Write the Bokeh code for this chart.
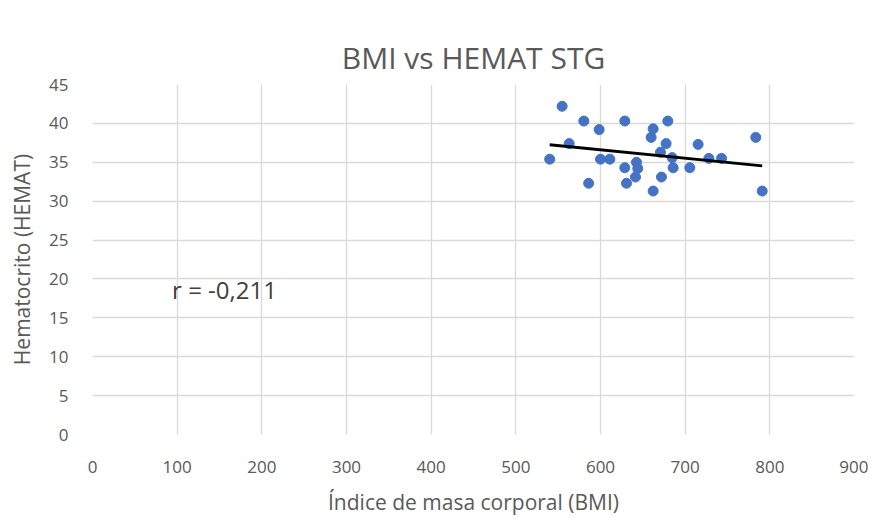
import numpy as np
from bokeh.plotting import figure
from bokeh.models import Range1d, Label, FixedTicker, ColumnDataSource, Title
from bokeh.embed import file_html
from bokeh.resources import INLINE

bmi = [554.7, 580.3, 598.4, 628.7, 679.5, 662.2, 659.8, 677.5, 563.0, 540.0,
       600.0, 611.0, 586.0, 628.7, 642.5, 644.0, 641.3, 630.7, 662.2, 672.0,
       670.8, 684.6, 685.8, 705.5, 715.3, 728.0, 743.0, 783.4, 791.0]
hemat = [42.2, 40.3, 39.2, 40.3, 40.3, 39.3, 38.2, 37.4, 37.4, 35.4,
         35.4, 35.4, 32.3, 34.3, 35.0, 34.2, 33.1, 32.3, 31.3, 33.1,
         36.3, 35.6, 34.3, 34.3, 37.3, 35.5, 35.5, 38.2, 31.3]
x_ticks = [0, 100, 200, 300, 400, 500, 600, 700, 800, 900]
y_ticks = [0, 5, 10, 15, 20, 25, 30, 35, 40, 45]
title_text = "BMI vs HEMAT STG"
r_text = "r = -0,211"

p = figure(width=868, height=518, output_backend="svg", toolbar_location=None,
           x_range=Range1d(0, 900), y_range=Range1d(0, 45),
           min_border_left=92, min_border_right=14, min_border_top=84, min_border_bottom=80)

p.title = Title(text=title_text, align="center", vertical_align="top",
                text_font="Open Sans", text_font_size="30px", text_font_style="normal",
                text_color="#595959", standoff=10)

p.outline_line_color = None
for ax in (p.xaxis, p.yaxis):
    ax.axis_line_color = None
    ax.major_tick_line_color = None
    ax.minor_tick_line_color = None
    ax.major_label_text_font = "Open Sans"
    ax.major_label_text_font_size = "17px"
    ax.major_label_text_color = "#595959"
    ax.axis_label_text_font = "Open Sans"
    ax.axis_label_text_font_size = "21px"
    ax.axis_label_text_font_style = "normal"
    ax.axis_label_text_color = "#595959"
p.xaxis.ticker = FixedTicker(ticks=x_ticks)
p.yaxis.ticker = FixedTicker(ticks=y_ticks)
p.xaxis.axis_label = "Índice de masa corporal (BMI)"
p.yaxis.axis_label = "Hematocrito (HEMAT)"
p.xaxis.major_label_standoff = 20
p.yaxis.major_label_standoff = 18
p.xaxis.axis_label_standoff = 12
p.yaxis.axis_label_standoff = 10

p.xgrid.grid_line_color = "#d9d9d9"
p.ygrid.grid_line_color = "#d9d9d9"
p.xgrid.grid_line_width = 1.3
p.ygrid.grid_line_width = 1.3

src = ColumnDataSource(dict(x=bmi, y=hemat))
p.scatter("x", "y", source=src, size=10, fill_color="#4472C4", line_color="#4472C4")

slope, intercept = np.polyfit(bmi, hemat, 1)
xs = [min(bmi), max(bmi)]
ys = [slope * v + intercept for v in xs]
p.line(xs, ys, line_color="black", line_width=2.8)

p.add_layout(Label(x=94, y=18.6, text=r_text, text_font="Open Sans", text_font_size="24px",
                   text_color="#404040", text_baseline="middle"))

open("out.html", "w").write(file_html(p, INLINE))
